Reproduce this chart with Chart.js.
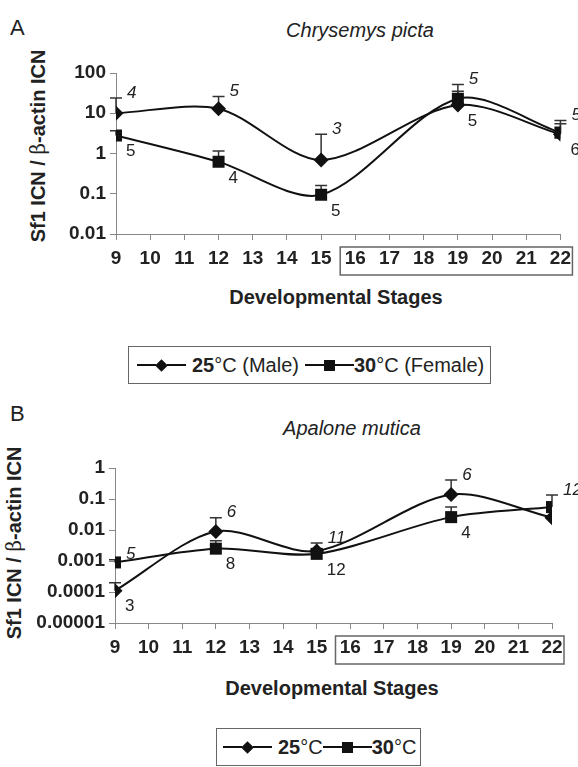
<!DOCTYPE html>
<html>
<head>
<meta charset="utf-8">
<script src="https://cdn.jsdelivr.net/npm/chart.js@4.4.1/dist/chart.umd.min.js"></script>
<style>
body { margin: 0; background: #fff; font-family: "Liberation Sans", Arial, sans-serif; color: #222; }
#page { position: relative; width: 578px; height: 767px; overflow: hidden; }
.abs { position: absolute; white-space: nowrap; }
.c { transform: translate(-50%, -50%); }
.panel { font-size: 22px; }
.species { font-size: 20px; font-style: italic; }
.ytitle { font-size: 20px; font-weight: bold; transform: translate(-50%, -50%) rotate(-90deg); }
.ytitle .beta { font-weight: normal; font-family: "DejaVu Serif", serif; }
.xtitle { font-size: 20px; font-weight: bold; }
canvas { position: absolute; left: 0; }
.legend { position: absolute; border: 1.5px solid #666; display: flex; align-items: center; font-size: 20px; padding: 0 6px 0 8px; box-sizing: border-box; }
.ln { display: inline-block; width: 19px; border-top: 2px solid #111; }
.dia { display: inline-block; width: 9px; height: 9px; background: #111; transform: rotate(45deg); margin: 0 1px; }
.sq { display: inline-block; width: 11px; height: 11px; background: #111; }
.gap { display: inline-block; width: 6px; }
</style>
</head>
<body>
<div id="page">
  <div class="abs panel" style="left:10px;top:15px;">A</div>
  <div class="abs species c" style="left:360px;top:30px;">Chrysemys picta</div>
  <div class="abs ytitle" style="left:38px;top:146px;">Sf1 ICN / <span class="beta">β</span>-actin ICN</div>
  <div class="abs xtitle c" style="left:336px;top:297px;">Developmental Stages</div>
  <div class="legend" style="left:128px;top:346px;height:38px;">
    <span class="ln"></span><span class="dia"></span><span class="ln"></span><span class="gap"></span><b>25</b>°C (Male)<span class="gap"></span>
    <span class="ln"></span><span class="sq"></span><span class="ln"></span><b>30</b>°C (Female)
  </div>
  <canvas id="chartA" width="578" height="290" style="top:0;"></canvas>

  <div class="abs panel" style="left:10px;top:401px;">B</div>
  <div class="abs species c" style="left:352px;top:428px;">Apalone mutica</div>
  <div class="abs ytitle" style="left:14px;top:543px;">Sf1 ICN / <span class="beta">β</span>-actin ICN</div>
  <div class="abs xtitle c" style="left:332px;top:688px;">Developmental Stages</div>
  <div class="legend" style="left:216px;top:728px;height:38px;padding:0 4px 0 6px;">
    <span class="ln"></span><span class="dia"></span><span class="ln"></span><span class="gap"></span><b>25</b>°C
    <span class="ln"></span><span class="sq"></span><span class="ln"></span><b>30</b>°C
  </div>
  <canvas id="chartB" width="578" height="289" style="top:390px;"></canvas>
</div>

<script>
// stages sampled and the axis tick labels
const stages = [9, 12, 15, 19, 22];
const stageTicks = [9, 10, 11, 12, 13, 14, 15, 16, 17, 18, 19, 20, 21, 22];
const boxedStages = [16, 22];

// A: Chrysemys picta
const aMale = [10, 13, 0.69, 16, 3.0];
const aMaleErr = [24, 26, 3.0, 52, 6.6];
const aFemale = [2.8, 0.62, 0.094, 23, 3.3];
const aFemaleErr = [3.7, 1.15, 0.16, 35, 5.5];
const aNAbove = ['4', '5', '3', '5', '5'];
const aNBelow = ['5', '4', '5', '5', '6'];
const aYTicks = [0.01, 0.1, 1, 10, 100];

// B: Apalone mutica
const bMale = [0.00011, 0.009, 0.0021, 0.14, 0.025];
const bMaleErr = [0.0002, 0.025, 0.0038, 0.41, null];
const bFemale = [0.0009, 0.0025, 0.0017, 0.026, 0.055];
const bFemaleErr = [0.0011, 0.0045, 0.0025, 0.055, 0.135];
const bNAbove = ['5', '6', '11', '6', '12'];
const bNBelow = ['3', '8', '12', '4', ''];
const bYTicks = [0.00001, 0.0001, 0.001, 0.01, 0.1, 1];

Chart.defaults.font.family = '"Liberation Sans", Arial, sans-serif';
Chart.defaults.color = '#222';

const errorBars = {
    id: 'errorBars',
    beforeDatasetsDraw(chart) {
        const { ctx, scales: { y } } = chart;
        chart.data.datasets.forEach((ds, di) => {
            const meta = chart.getDatasetMeta(di);
            meta.data.forEach((pt, i) => {
                const top = ds.errTop[i];
                if (top == null) return;
                const yt = y.getPixelForValue(top);
                ctx.save();
                ctx.strokeStyle = '#333';
                ctx.lineWidth = 1.5;
                ctx.beginPath();
                ctx.moveTo(pt.x, pt.y);
                ctx.lineTo(pt.x, yt);
                ctx.moveTo(pt.x - 6, yt);
                ctx.lineTo(pt.x + 6, yt);
                ctx.stroke();
                ctx.restore();
            });
        });
    }
};

// sample sizes: italic above the upper cap, upright below the lower point
const nLabels = {
    id: 'nLabels',
    afterDatasetsDraw(chart, args, opts) {
        const { ctx, scales: { x, y } } = chart;
        stages.forEach((s, i) => {
            const px = x.getPixelForValue(s);
            let capTop = Infinity, low = -Infinity;
            chart.data.datasets.forEach((ds, di) => {
                const pt = chart.getDatasetMeta(di).data[i];
                const t = ds.errTop[i] != null ? y.getPixelForValue(ds.errTop[i]) : pt.y;
                capTop = Math.min(capTop, t);
                low = Math.max(low, pt.y);
            });
            ctx.save();
            ctx.fillStyle = '#222';
            ctx.textAlign = 'left';
            ctx.textBaseline = 'middle';
            ctx.font = 'italic 17px "Liberation Sans", Arial, sans-serif';
            ctx.fillText(opts.above[i], px + 11, capTop - 5);
            ctx.font = '17px "Liberation Sans", Arial, sans-serif';
            ctx.fillText(opts.below[i], px + 10, low + 16);
            ctx.restore();
        });
    }
};

const tickBox = {
    id: 'tickBox',
    afterDraw(chart) {
        const { ctx, scales: { x } } = chart;
        const left = x.getPixelForValue(boxedStages[0] - 0.5) + 2;
        const right = x.getPixelForValue(boxedStages[1]) + 12;
        ctx.save();
        ctx.strokeStyle = '#666';
        ctx.lineWidth = 1.5;
        ctx.strokeRect(left, x.top + 13, right - left, 28);
        ctx.restore();
    }
};

function makeChart(id, male, maleErr, female, femaleErr, yTicks, nAbove, nBelow, pad) {
    const pts = (vals) => stages.map((s, i) => ({ x: s, y: vals[i] }));
    return new Chart(document.getElementById(id), {
        type: 'line',
        data: {
            datasets: [
                {
                    label: '25°C',
                    data: pts(male),
                    errTop: maleErr,
                    borderColor: '#111',
                    backgroundColor: '#111',
                    borderWidth: 2,
                    tension: 0.3,
                    pointStyle: 'rectRot',
                    pointRadius: 7.5,
                    pointBorderWidth: 0
                },
                {
                    label: '30°C',
                    data: pts(female),
                    errTop: femaleErr,
                    borderColor: '#111',
                    backgroundColor: '#111',
                    borderWidth: 2,
                    tension: 0.3,
                    pointStyle: 'rect',
                    pointRadius: 8.5,
                    pointBorderWidth: 0
                }
            ]
        },
        options: {
            responsive: false,
            animation: false,
            layout: { padding: pad },
            plugins: {
                legend: { display: false },
                tooltip: { enabled: false },
                nLabels: { above: nAbove, below: nBelow }
            },
            scales: {
                x: {
                    type: 'linear',
                    min: stageTicks[0],
                    max: stageTicks[stageTicks.length - 1],
                    afterBuildTicks: (s) => { s.ticks = stageTicks.map(v => ({ value: v })); },
                    afterFit: (s) => { s.height = 56; },
                    grid: { drawOnChartArea: false, color: '#888', tickLength: 6 },
                    border: { color: '#888', width: 1 },
                    ticks: { padding: 7, font: { size: 19, weight: 'bold' }, color: '#222' }
                },
                y: {
                    type: 'logarithmic',
                    min: yTicks[0],
                    max: yTicks[yTicks.length - 1],
                    afterBuildTicks: (s) => { s.ticks = yTicks.map(v => ({ value: v })); },
                    afterFit: (s) => { s.width = pad.yWidth; },
                    grid: { drawOnChartArea: false, color: '#888', tickLength: 6 },
                    border: { color: '#888', width: 1 },
                    ticks: {
                        padding: 4,
                        font: { size: 19, weight: 'bold' },
                        color: '#222',
                        callback: (v) => String(v)
                    }
                }
            }
        },
        plugins: [errorBars, nLabels, tickBox]
    });
}

makeChart('chartA', aMale, aMaleErr, aFemale, aFemaleErr, aYTicks, aNAbove, aNBelow,
    { top: 73, right: 17, left: 0, bottom: 0, yWidth: 116 });
makeChart('chartB', bMale, bMaleErr, bFemale, bFemaleErr, bYTicks, bNAbove, bNBelow,
    { top: 78, right: 26, left: 0, bottom: 0, yWidth: 115 });
</script>
</body>
</html>
